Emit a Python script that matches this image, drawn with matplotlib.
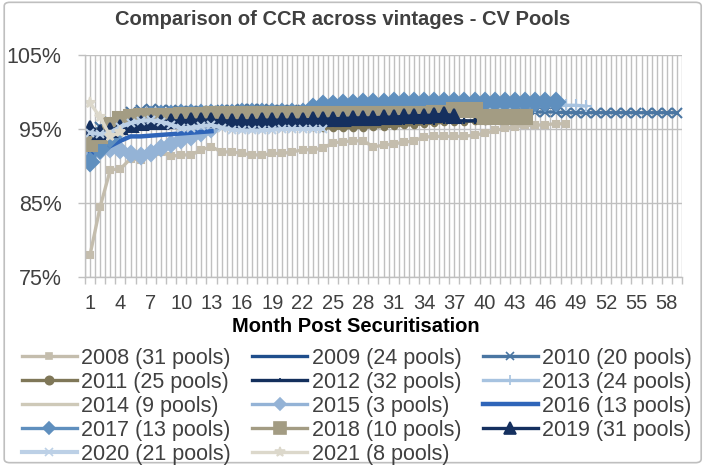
import numpy as np
import matplotlib
matplotlib.use("Agg")
import matplotlib.pyplot as plt
from matplotlib.patches import FancyBboxPatch
from matplotlib.lines import Line2D
from matplotlib.ticker import FuncFormatter, FixedLocator

# CCR by month post securitisation (in %), one list per vintage
ccr_2008 = [78.0, 84.5, 89.5, 89.6, 91.0, 90.8, 91.7, 91.9, 91.3, 91.5,
            91.5, 92.2, 92.6, 91.9, 91.9, 91.7, 91.5, 91.5, 91.7, 91.7,
            91.9, 92.2, 92.2, 92.4, 93.1, 93.3, 93.4, 93.4, 92.6, 92.8,
            93.0, 93.2, 93.4, 93.9, 94.0, 94.0, 94.0, 94.0, 94.2, 94.4,
            94.8, 95.1, 95.3, 95.5, 95.5, 95.6, 95.7, 95.7]
ccr_2009 = [93.5, 94.5, 95.3, 95.8, 96.2, 96.4, 96.5, 96.6, 96.6, 96.7,
            96.7, 96.8, 96.8, 96.8, 96.8, 96.9, 96.9, 96.9, 96.9, 97.0,
            97.0, 97.0, 97.0, 97.1, 97.1, 97.2, 97.2, 97.3, 97.3, 97.3,
            97.4, 97.4, 97.5, 97.5, 97.5, 97.6, 97.6, 97.7, 97.7, 97.7,
            97.8, 97.8, 97.8, 97.9, 97.9, 98.0, 98.0]
ccr_2010 = [94.5, 95.3, 96.0, 96.6, 97.3, 97.6, 97.7, 97.6, 97.6, 97.5,
            97.5, 97.5, 97.5, 97.6, 97.6, 97.7, 97.7, 97.7, 97.6, 97.6,
            97.6, 97.6, 97.6, 97.6, 97.6, 97.6, 97.6, 97.6, 97.6, 97.6,
            97.5, 97.5, 97.5, 97.5, 97.5, 97.5, 97.5, 97.5, 97.4, 97.4,
            97.4, 97.4, 97.4, 97.3, 97.3, 97.3, 97.3, 97.2, 97.2, 97.2,
            97.2, 97.2, 97.2, 97.2, 97.2, 97.2, 97.2, 97.2, 97.2]
ccr_2011 = [92.0, 93.5, 94.5, 95.0, 95.3, 95.5, 95.6, 95.6, 95.7, 95.7,
            95.7, 95.7, 95.8, 95.8, 95.8, 95.8, 95.8, 95.8, 95.7, 95.6,
            95.5, 95.4, 95.3, 95.2, 95.1, 95.1, 95.2, 95.2, 95.3, 95.3,
            95.4, 95.5, 95.6, 95.7, 95.8, 95.9, 96.0, 96.0, 96.1, 96.1,
            96.2, 96.2, 96.3, 96.3]
ccr_2012 = [93.0, 94.0, 94.6, 95.0, 95.2, 95.4, 95.5, 95.6, 95.6, 95.6,
            95.7, 95.7, 95.7, 95.7, 95.7, 95.7, 95.7, 95.7, 95.7, 95.8,
            95.8, 95.8, 95.8, 95.8, 95.9, 95.9, 95.9, 95.9, 95.9, 96.0,
            96.0, 96.0, 96.0, 96.0, 96.0, 96.1, 96.1, 96.1, 96.1, 96.2,
            96.2, 96.2, 96.3, 96.4]
ccr_2013 = [93.5, 94.5, 95.2, 95.7, 96.0, 96.2, 96.4, 96.5, 96.6, 96.6,
            96.7, 96.7, 96.8, 96.8, 96.8, 96.9, 96.9, 96.9, 97.0, 97.0,
            97.0, 97.0, 97.1, 97.1, 97.2, 97.2, 97.3, 97.3, 97.4, 97.4,
            97.5, 97.5, 97.6, 97.6, 97.7, 97.7, 97.7, 97.8, 97.8, 97.9,
            97.9, 97.9, 98.0, 98.0, 98.0, 98.1, 98.1, 98.2, 98.2, 98.1]
ccr_2014 = [92.5, 93.8, 94.5, 94.8, 95.0, 95.1, 95.2, 95.2, 95.2, 95.3,
            95.3, 95.3, 95.3, 95.3, 95.3, 95.3, 95.3, 95.3, 95.4, 95.4,
            95.4, 95.4, 95.4, 95.4]
ccr_2015 = [91.5, 92.0, 92.3, 92.1, 91.6, 91.3, 91.8, 92.5, 93.0, 93.5,
            93.9, 94.5, 95.0]
ccr_2016 = [91.8, 91.8, 92.7, 93.4, 94.0, 94.0, 94.1, 94.2, 94.3, 94.4,
            94.5, 94.6, 94.7]
ccr_2017 = [90.5, 92.3, 93.8, 95.0, 96.0, 96.5, 96.8, 96.9, 96.9, 97.0,
            97.0, 97.0, 97.0, 97.0, 97.0, 97.1, 97.1, 97.1, 97.1, 97.2,
            97.2, 97.2, 97.9, 98.2, 98.3, 98.4, 98.4, 98.5, 98.5, 98.5,
            98.6, 98.6, 98.6, 98.6, 98.6, 98.6, 98.6, 98.6, 98.6, 98.6,
            98.6, 98.6, 98.6, 98.6, 98.6, 98.6, 98.6]
ccr_2018 = [93.0, 94.0, 95.5, 96.3, 96.6, 96.8, 96.8, 96.8, 96.8, 96.9,
            96.9, 96.9, 97.0, 97.0, 97.0, 97.0, 97.0, 97.0, 97.0, 97.0,
            97.0, 97.0, 97.0, 97.0, 97.0, 97.0, 97.0, 97.0, 97.0, 97.0,
            97.0, 97.0, 97.0, 97.0, 97.1, 97.1, 97.6, 97.6, 97.6, 96.6,
            96.6, 96.6, 96.6, 96.6]
ccr_2019 = [95.2, 94.6, 94.8, 95.3, 95.6, 95.8, 96.0, 96.0, 96.1, 96.1,
            96.2, 96.2, 96.2, 96.1, 96.1, 96.1, 96.1, 96.2, 96.2, 96.2,
            96.2, 96.2, 96.3, 96.3, 96.4, 96.4, 96.5, 96.5, 96.5, 96.6,
            96.6, 96.7, 96.8, 96.8, 96.9, 97.0, 96.8]
ccr_2020 = [94.5, 94.3, 94.5, 95.3, 95.8, 96.1, 96.2, 96.0, 95.6, 95.1,
            95.2, 95.4, 95.5, 95.2, 94.9, 94.8, 94.8, 94.8, 94.9, 95.0,
            95.0, 95.0, 95.0, 95.0]
ccr_2021 = [98.5, 96.6, 94.0, 94.6]

labels = ["2008 (31 pools)", "2009 (24 pools)", "2010 (20 pools)",
          "2011 (25 pools)", "2012 (32 pools)", "2013 (24 pools)",
          "2014 (9 pools)", "2015 (3 pools)", "2016 (13 pools)",
          "2017 (13 pools)", "2018 (10 pools)", "2019 (31 pools)",
          "2020 (21 pools)", "2021 (8 pools)"]
series = [ccr_2008, ccr_2009, ccr_2010, ccr_2011, ccr_2012, ccr_2013,
          ccr_2014, ccr_2015, ccr_2016, ccr_2017, ccr_2018, ccr_2019,
          ccr_2020, ccr_2021]
n_months = 59
month_labels = [1, 4, 7, 10, 13, 16, 19, 22, 25, 28, 31, 34, 37, 40, 43,
                46, 49, 52, 55, 58]

# colour, marker, marker size on chart, marker size in legend, line width
styles = [
    ("#C4BDAD", "s", 4, 4, 2.4),
    ("#1F4E8C", None, 0, 0, 2.4),
    ("#4A76A2", "x", 7, 6, 2.4),
    ("#7F7758", "o", 4, 6, 2.4),
    ("#132F5C", "+", 4, 3, 2.4),
    ("#A7C3E0", "+", 8, 7, 2.4),
    ("#CEC9B8", None, 0, 0, 2.4),
    ("#94B3D6", "D", 8, 6, 2.4),
    ("#2F65B9", None, 0, 0, 3.2),
    ("#5F8FBE", "D", 9, 6, 2.4),
    ("#A39C83", "s", 10, 8, 2.4),
    ("#15305F", "^", 10, 8, 2.4),
    ("#BCD0E6", "x", 6, 6, 3.0),
    ("#DCD8CB", "*", 8, 7, 2.4),
]

TXT = "#404040"
GRID = "#C0C0C0"

fig = plt.figure(figsize=(7.04, 4.65), dpi=100)
fig.patches.append(FancyBboxPatch((0.006, 0.005), 0.99, 0.99,
                                  boxstyle="round,pad=0,rounding_size=0.008",
                                  transform=fig.transFigure, fill=False,
                                  edgecolor="#BFBFBF", linewidth=1.2))

ax = fig.add_axes([85 / 704, 1 - 277 / 465, (682 - 85) / 704, (277 - 55) / 465])

handles = []
for vals, lab, (col, mk, ms, lms, lw) in zip(series, labels, styles):
    months = np.arange(1, len(vals) + 1)
    ax.plot(months, vals, color=col, marker=mk, markersize=ms,
            linewidth=lw, markeredgecolor=col, markerfacecolor=col,
            markeredgewidth=1.5, solid_joinstyle="miter")
    handles.append(Line2D([], [], color=col, marker=mk, markersize=lms,
                          linewidth=lw, markeredgecolor=col,
                          markerfacecolor=col, markeredgewidth=1.2))

ax.set_xlim(0.5, n_months + 0.5)
ax.set_ylim(75, 105)
ax.set_yticks([75, 85, 95, 105])
ax.yaxis.set_major_formatter(FuncFormatter(lambda v, p: "%d%%" % v))

all_months = np.arange(1, n_months + 1)
ax.xaxis.set_major_locator(FixedLocator(all_months))
ax.xaxis.set_major_formatter(FuncFormatter(
    lambda v, p: str(int(round(v))) if int(round(v)) in month_labels else ""))
ax.xaxis.set_minor_locator(FixedLocator(np.arange(0.5, n_months + 1, 1.0)))
ax.tick_params(axis="x", which="major", length=0, pad=12, labelsize=14.5,
               labelcolor=TXT)
ax.tick_params(axis="x", which="minor", length=5, color=GRID, width=1)
ax.tick_params(axis="y", length=5, color=GRID, width=1, labelsize=15.5,
               labelcolor=TXT, pad=12)
ax.grid(True, which="both", axis="x", color=GRID, linewidth=1)
ax.grid(True, which="major", axis="y", color=GRID, linewidth=1)
ax.set_axisbelow(True)
for s in ["top", "right"]:
    ax.spines[s].set_visible(False)
for s in ["left", "bottom"]:
    ax.spines[s].set_color(GRID)
    ax.spines[s].set_linewidth(1)

for t in ax.get_xticklabels() + ax.get_yticklabels():
    t.set_family("Liberation Sans")

fig.text(0.487, 0.958, "Comparison of CCR across vintages - CV Pools",
         ha="center", va="center", fontsize=14.5, fontweight="bold",
         color=TXT, family=["Liberation Sans Narrow", "Liberation Sans"])
fig.text(0.505, 0.297, "Month Post Securitisation", ha="center", va="center",
         fontsize=14.5, fontweight="bold", color="black",
         family=["Liberation Sans Narrow", "Liberation Sans"])

# legend is row-major in the original, matplotlib fills columns first
order = [0, 3, 6, 9, 12, 1, 4, 7, 10, 13, 2, 5, 8, 11]
fig.legend([handles[i] for i in order], [labels[i] for i in order],
           loc="upper left", bbox_to_anchor=(0.031, 0.252), ncol=3,
           frameon=False, handlelength=2.55, handletextpad=0.2,
           columnspacing=1.0, labelspacing=0.14, borderpad=0, borderaxespad=0,
           labelcolor=TXT, prop={"family": "Liberation Sans", "size": 15.5})

fig.savefig("out.png", dpi=100)
